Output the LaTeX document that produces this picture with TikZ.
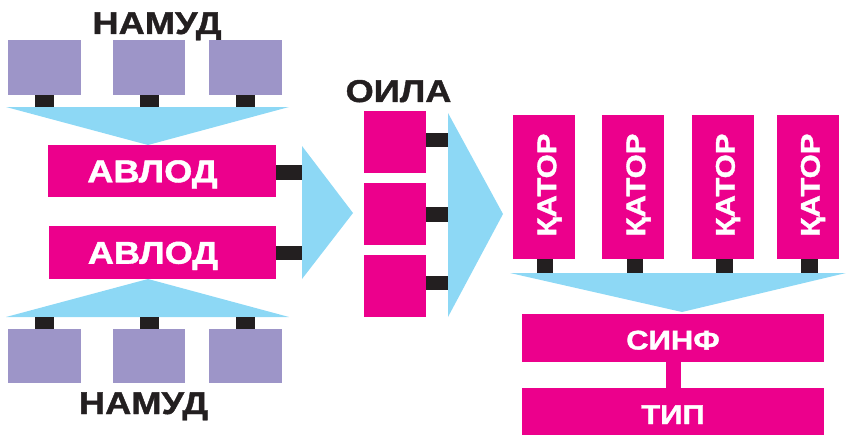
\documentclass[tikz,border=0pt]{standalone}
\usepackage{fontspec}
\setmainfont{Liberation Sans}
\newfontfamily\hfont[FakeStretch=1.15,BoldFeatures={FakeBold=1.3}]{Liberation Sans}
\usetikzlibrary{calc}
\definecolor{mag}{HTML}{EC008C}
\definecolor{lav}{HTML}{9D95C8}
\definecolor{sky}{HTML}{8DD8F5}
\definecolor{blk}{HTML}{231F20}
\begin{document}
\begin{tikzpicture}[x=1pt,y=-1pt,
  lbox/.style={fill=lav,draw=none,inner sep=0pt,outer sep=0pt},
  mbox/.style={fill=mag,draw=none,inner sep=0pt,outer sep=0pt,text=white,
    text depth=0pt},
  bigtxt/.style={font=\hfont\bfseries\fontsize{31.5}{31}\selectfont,text height=22.5pt},
  midtxt/.style={font=\hfont\bfseries\fontsize{27}{27}\selectfont},
  title/.style={inner sep=0pt,anchor=base,text=blk,font=\hfont\bfseries\fontsize{31.5}{31}\selectfont},
  conn/.style={fill=blk},
  arr/.style={fill=sky}]
\useasboundingbox (0,0) rectangle (846,436);

% titles
\node[title] (n1) at (157,34) {НАМУД};
\node[title] (n2) at (143.5,414) {НАМУД};
\node[title] (ol) at (398.5,102) {ОИЛА};

% top purple boxes
\node[lbox,minimum width=73pt,minimum height=55pt] (t1) at (44.5,67.5) {};
\node[lbox,minimum width=72pt,minimum height=55pt] (t2) at (149,67.5) {};
\node[lbox,minimum width=73pt,minimum height=55pt] (t3) at (245.5,67.5) {};
% bottom purple boxes
\node[lbox,minimum width=73pt,minimum height=54pt] (b1) at (44.5,356) {};
\node[lbox,minimum width=72pt,minimum height=54pt] (b2) at (149,356) {};
\node[lbox,minimum width=73pt,minimum height=54pt] (b3) at (245.5,356) {};

% avlod boxes
\node[mbox,bigtxt,minimum width=228pt,minimum height=52pt] (a1) at (162,171) {АВЛОД\rule{19pt}{0pt}};
\node[mbox,bigtxt,minimum width=227pt,minimum height=53pt] (a2) at (162.5,252.5) {АВЛОД\rule{19pt}{0pt}};

% top/bottom funnels
\fill[arr] (6,107) -- (289,107) -- (a1.north -| 148,0) -- cycle;
\fill[arr] (6,317) -- (289,317) -- (a2.south -| 148,0) -- cycle;

% connectors purple -> funnel
\foreach \b in {t1,t2,t3} {\fill[conn] ($(\b.south)+(-9.5,0)$) rectangle ++(19,12);}
\foreach \b in {b1,b2,b3} {\fill[conn] ($(\b.north)+(-9.5,0)$) rectangle ++(19,-12);}

% avlod connectors
\fill[conn] ($(a1.east)+(0,-6)$) rectangle ++(26,15);
\fill[conn] ($(a2.east)+(0,-6.5)$) rectangle ++(26,14);
\fill[arr] (302,146) -- (302,279) -- (353,213) -- cycle;

% oila boxes
\node[mbox,minimum width=62pt,minimum height=62pt] (o1) at (395,142) {};
\node[mbox,minimum width=62pt,minimum height=62pt] (o2) at (395,214) {};
\node[mbox,minimum width=62pt,minimum height=62pt] (o3) at (395,286) {};
\fill[conn] ($(o1.east)+(0,-9)$) rectangle ++(22,14);
\fill[conn] ($(o2.east)+(0,-7)$) rectangle ++(22,15);
\fill[conn] ($(o3.east)+(0,-10)$) rectangle ++(22,14);
\fill[arr] (448,113) -- (448,317) -- (503,214) -- cycle;

% kator boxes
\foreach \n/\x in {k1/544,k2/633,k3/722.5,k4/807.5}{
  \node[mbox,rotate=90,minimum width=144pt,minimum height=62pt,
    font=\hfont\bfseries\fontsize{27}{27}\selectfont,text height=24.4pt] (\n) at (\x,187) {\rule{4pt}{0pt}ҚАТОР};
}
\fill[conn] ($(k1.west)+(-7,0)$) rectangle ++(16,14);
\fill[conn] ($(k2.west)+(-6,0)$) rectangle ++(16,14);
\fill[conn] ($(k3.west)+(-6.5,0)$) rectangle ++(17,14);
\fill[conn] ($(k4.west)+(-6.5,0)$) rectangle ++(17,14);
\fill[arr] (510,273) -- (846,273) -- (682,312) -- cycle;

% sinf / tip
\node[mbox,midtxt,text height=23pt,minimum width=302pt,minimum height=48pt] (s) at (673,338) {СИНФ};
\node[mbox,midtxt,text height=25pt,minimum width=302pt,minimum height=47pt] (tp) at (673,411.5) {ТИП};
\fill[mag] ($(s.south)+(-7,0)$) rectangle ($(tp.north)+(8,0)$);
\end{tikzpicture}
\end{document}
